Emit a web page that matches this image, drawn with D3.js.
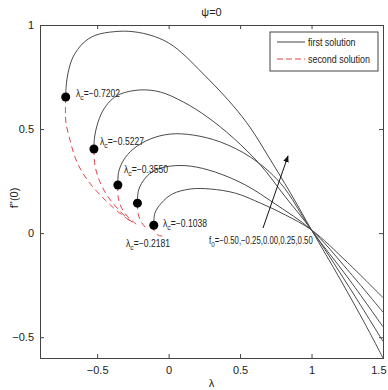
<!DOCTYPE html>
<html>
<head>
<meta charset="utf-8">
<script src="https://cdn.jsdelivr.net/npm/d3@7"></script>
<style>
  body { margin: 0; background: #fff; }
  text { font-family: "Liberation Sans", Arial, sans-serif; fill: #222; }
</style>
</head>
<body>
<script>
var WIDTH = 388,
    HEIGHT = 390;

// lambda_c for each f0 (turning points)
var f0Values = [-0.50, -0.25, 0.00, 0.25, 0.50];
var lambdaC = [-0.7202, -0.5227, -0.3550, -0.2181, -0.1038];
var fC = [0.654, 0.404, 0.231, 0.144, 0.038];

// first solution branches, [lambda, f''(0)]
var first1 = [[-0.7202, 0.654], [-0.716, 0.712], [-0.704, 0.769], [-0.669, 0.846], [-0.598, 0.913], [-0.514, 0.950],
  [-0.380, 0.968], [-0.250, 0.968], [-0.100, 0.945], [0.033, 0.899], [0.271, 0.745], [0.453, 0.611], [0.573, 0.505],
  [0.692, 0.375], [0.853, 0.192], [1.0, 0.015], [1.204, -0.226], [1.379, -0.442], [1.5, -0.600]];
var first2 = [[-0.5227, 0.404], [-0.518, 0.462], [-0.500, 0.519], [-0.465, 0.582], [-0.409, 0.635], [-0.339, 0.668],
  [-0.199, 0.688], [-0.058, 0.678], [0.103, 0.630], [0.271, 0.558], [0.453, 0.457], [0.643, 0.327],
  [0.818, 0.173], [1.0, 0.015], [1.25, -0.245], [1.5, -0.520]];
var first3 = [[-0.3550, 0.231], [-0.350, 0.293], [-0.315, 0.351], [-0.248, 0.404], [-0.129, 0.452], [0.012, 0.476],
  [0.173, 0.471], [0.362, 0.438], [0.573, 0.365], [0.783, 0.240], [1.0, 0.015], [1.25, -0.210], [1.5, -0.450]];
var first4 = [[-0.2181, 0.144], [-0.210, 0.207], [-0.164, 0.264], [-0.094, 0.303], [0.012, 0.322], [0.152, 0.322],
  [0.327, 0.293], [0.538, 0.231], [0.748, 0.139], [1.0, 0.015], [1.25, -0.175], [1.5, -0.380]];
var first5 = [[-0.1038, 0.038], [-0.096, 0.096], [-0.051, 0.144], [0.026, 0.188], [0.152, 0.212], [0.292, 0.212],
  [0.467, 0.192], [0.643, 0.144], [0.818, 0.087], [1.0, 0.015], [1.25, -0.140], [1.5, -0.310]];

// second solution branches
var second1 = [[-0.7202, 0.654], [-0.722, 0.591], [-0.718, 0.529], [-0.690, 0.447], [-0.655, 0.365], [-0.605, 0.293],
  [-0.535, 0.226], [-0.444, 0.159], [-0.360, 0.106], [-0.269, 0.058]];
var second2 = [[-0.5227, 0.404], [-0.516, 0.327], [-0.486, 0.255], [-0.437, 0.188], [-0.367, 0.125], [-0.290, 0.072], [-0.234, 0.043]];
var second3 = [[-0.3550, 0.231], [-0.353, 0.173], [-0.332, 0.125], [-0.290, 0.082], [-0.227, 0.043]];
var second4 = [[-0.2181, 0.144], [-0.214, 0.096], [-0.192, 0.053], [-0.150, 0.019]];
var second5 = [[-0.1038, 0.038], [-0.100, 0.010], [-0.073, -0.010], [-0.044, -0.014]];

var firstSolutions = [first1, first2, first3, first4, first5],
    secondSolutions = [second1, second2, second3, second4, second5];

var xTicks = [-0.5, 0, 0.5, 1, 1.5],
    yTicks = [-0.5, 0, 0.5, 1];

var margin = {top: 25, right: 5, bottom: 32, left: 40};

var x = d3.scaleLinear().domain([-0.9, 1.5]).range([margin.left, WIDTH - margin.right]),
    y = d3.scaleLinear().domain([-0.6, 1]).range([HEIGHT - margin.bottom, margin.top]);

var svg = d3.select("body").append("svg")
      .attr("width", WIDTH)
      .attr("height", HEIGHT);

var line = d3.line()
      .x(function(d) { return x(d[0]); })
      .y(function(d) { return y(d[1]); })
      .curve(d3.curveCatmullRom.alpha(0.5));

// narrow looking text: a group squeezed horizontally
function narrowText(px, py, sx, size) {
  return svg.append("g")
    .attr("transform", "translate(" + px + "," + py + ") scale(" + sx + ",1)")
    .append("text")
    .style("font-size", size + "px");
}

// axes, ticks pointing inwards like matlab
var fmt = function(d) { return d3.format("")(d); };
svg.append("g")
  .attr("class", "xaxis")
  .attr("transform", "translate(0," + y.range()[0] + ")")
  .call(d3.axisBottom(x).tickValues(xTicks).tickSize(-4).tickPadding(8).tickFormat(fmt));
svg.append("g")
  .attr("transform", "translate(0," + y.range()[1] + ")")
  .call(d3.axisTop(x).tickValues(xTicks).tickSize(-4).tickFormat(""));
svg.append("g")
  .attr("transform", "translate(" + x.range()[0] + ",0)")
  .call(d3.axisLeft(y).tickValues(yTicks).tickSize(-4).tickPadding(6).tickFormat(fmt));
svg.append("g")
  .attr("transform", "translate(" + x.range()[1] + ",0)")
  .call(d3.axisRight(y).tickValues(yTicks).tickSize(-4).tickFormat(""));

svg.selectAll(".domain").attr("stroke", "#444");
svg.selectAll(".tick line").attr("stroke", "#444");
svg.selectAll(".tick text").style("font-size", "11px").attr("fill", "#333");
svg.selectAll(".xaxis .tick text").filter(function(d) { return d === 1.5; })
  .attr("text-anchor", "end").attr("dx", 3);

svg.selectAll(".first").data(firstSolutions).enter().append("path")
  .attr("class", "first")
  .attr("d", line)
  .attr("fill", "none")
  .attr("stroke", "#4a4a4a")
  .attr("stroke-width", 1);

svg.selectAll(".second").data(secondSolutions).enter().append("path")
  .attr("class", "second")
  .attr("d", line)
  .attr("fill", "none")
  .attr("stroke", "#e8434b")
  .attr("stroke-width", 1)
  .attr("stroke-dasharray", "6,4");

svg.selectAll(".dot").data(lambdaC).enter().append("circle")
  .attr("class", "dot")
  .attr("cx", function(d) { return x(d); })
  .attr("cy", function(d, i) { return y(fC[i]); })
  .attr("r", 4.5)
  .attr("fill", "#000");

// lambda_c labels
var labelPos = [[76, 97], [100, 145], [124, 173], [126, 247], [163, 227]];
lambdaC.forEach(function(d, i) {
  var t = narrowText(labelPos[i][0], labelPos[i][1], 0.86, 10);
  t.append("tspan").text("λ");
  t.append("tspan").attr("dy", 3).style("font-size", "8px").text("c");
  t.append("tspan").attr("dy", -3).text("=" + d3.format(".4f")(d));
});

// f0 annotation and arrow
svg.append("defs").append("marker")
  .attr("id", "arrow")
  .attr("viewBox", "0 0 10 10")
  .attr("refX", 9).attr("refY", 5)
  .attr("markerWidth", 7).attr("markerHeight", 7)
  .attr("orient", "auto")
  .append("path").attr("d", "M0,1L10,5L0,9z").attr("fill", "#111");

svg.append("line")
  .attr("x1", 263).attr("y1", 228)
  .attr("x2", 288).attr("y2", 156)
  .attr("stroke", "#111")
  .attr("marker-end", "url(#arrow)");

var ann = narrowText(209, 244, 0.78, 10);
ann.append("tspan").text("f");
ann.append("tspan").attr("dy", 3).style("font-size", "8px").text("0");
ann.append("tspan").attr("dy", -3).text("=" + f0Values.map(d3.format(".2f")).join(","));

// legend
var legend = svg.append("g");
legend.append("rect")
  .attr("x", 270).attr("y", 32).attr("width", 108).attr("height", 39)
  .attr("fill", "#fff").attr("stroke", "#444");
legend.append("line")
  .attr("x1", 277).attr("x2", 305).attr("y1", 42).attr("y2", 42)
  .attr("stroke", "#444");
legend.append("line")
  .attr("x1", 277).attr("x2", 305).attr("y1", 59).attr("y2", 59)
  .attr("stroke", "#e8434b").attr("stroke-dasharray", "6,3");
narrowText(308, 46, 0.85, 10.5).text("first solution");
narrowText(308, 63, 0.85, 10.5).text("second solution");

// titles
svg.append("text")
  .attr("x", (x.range()[0] + x.range()[1]) / 2).attr("y", 16)
  .attr("text-anchor", "middle")
  .style("font-size", "11px")
  .text("ψ=0");
svg.append("text")
  .attr("x", (x.range()[0] + x.range()[1]) / 2).attr("y", 387)
  .attr("text-anchor", "middle")
  .style("font-size", "11px")
  .text("λ");
svg.append("text")
  .attr("transform", "translate(18,198) rotate(-90)")
  .attr("text-anchor", "middle")
  .style("font-size", "11px")
  .text("f''(0)");
</script>
</body>
</html>
